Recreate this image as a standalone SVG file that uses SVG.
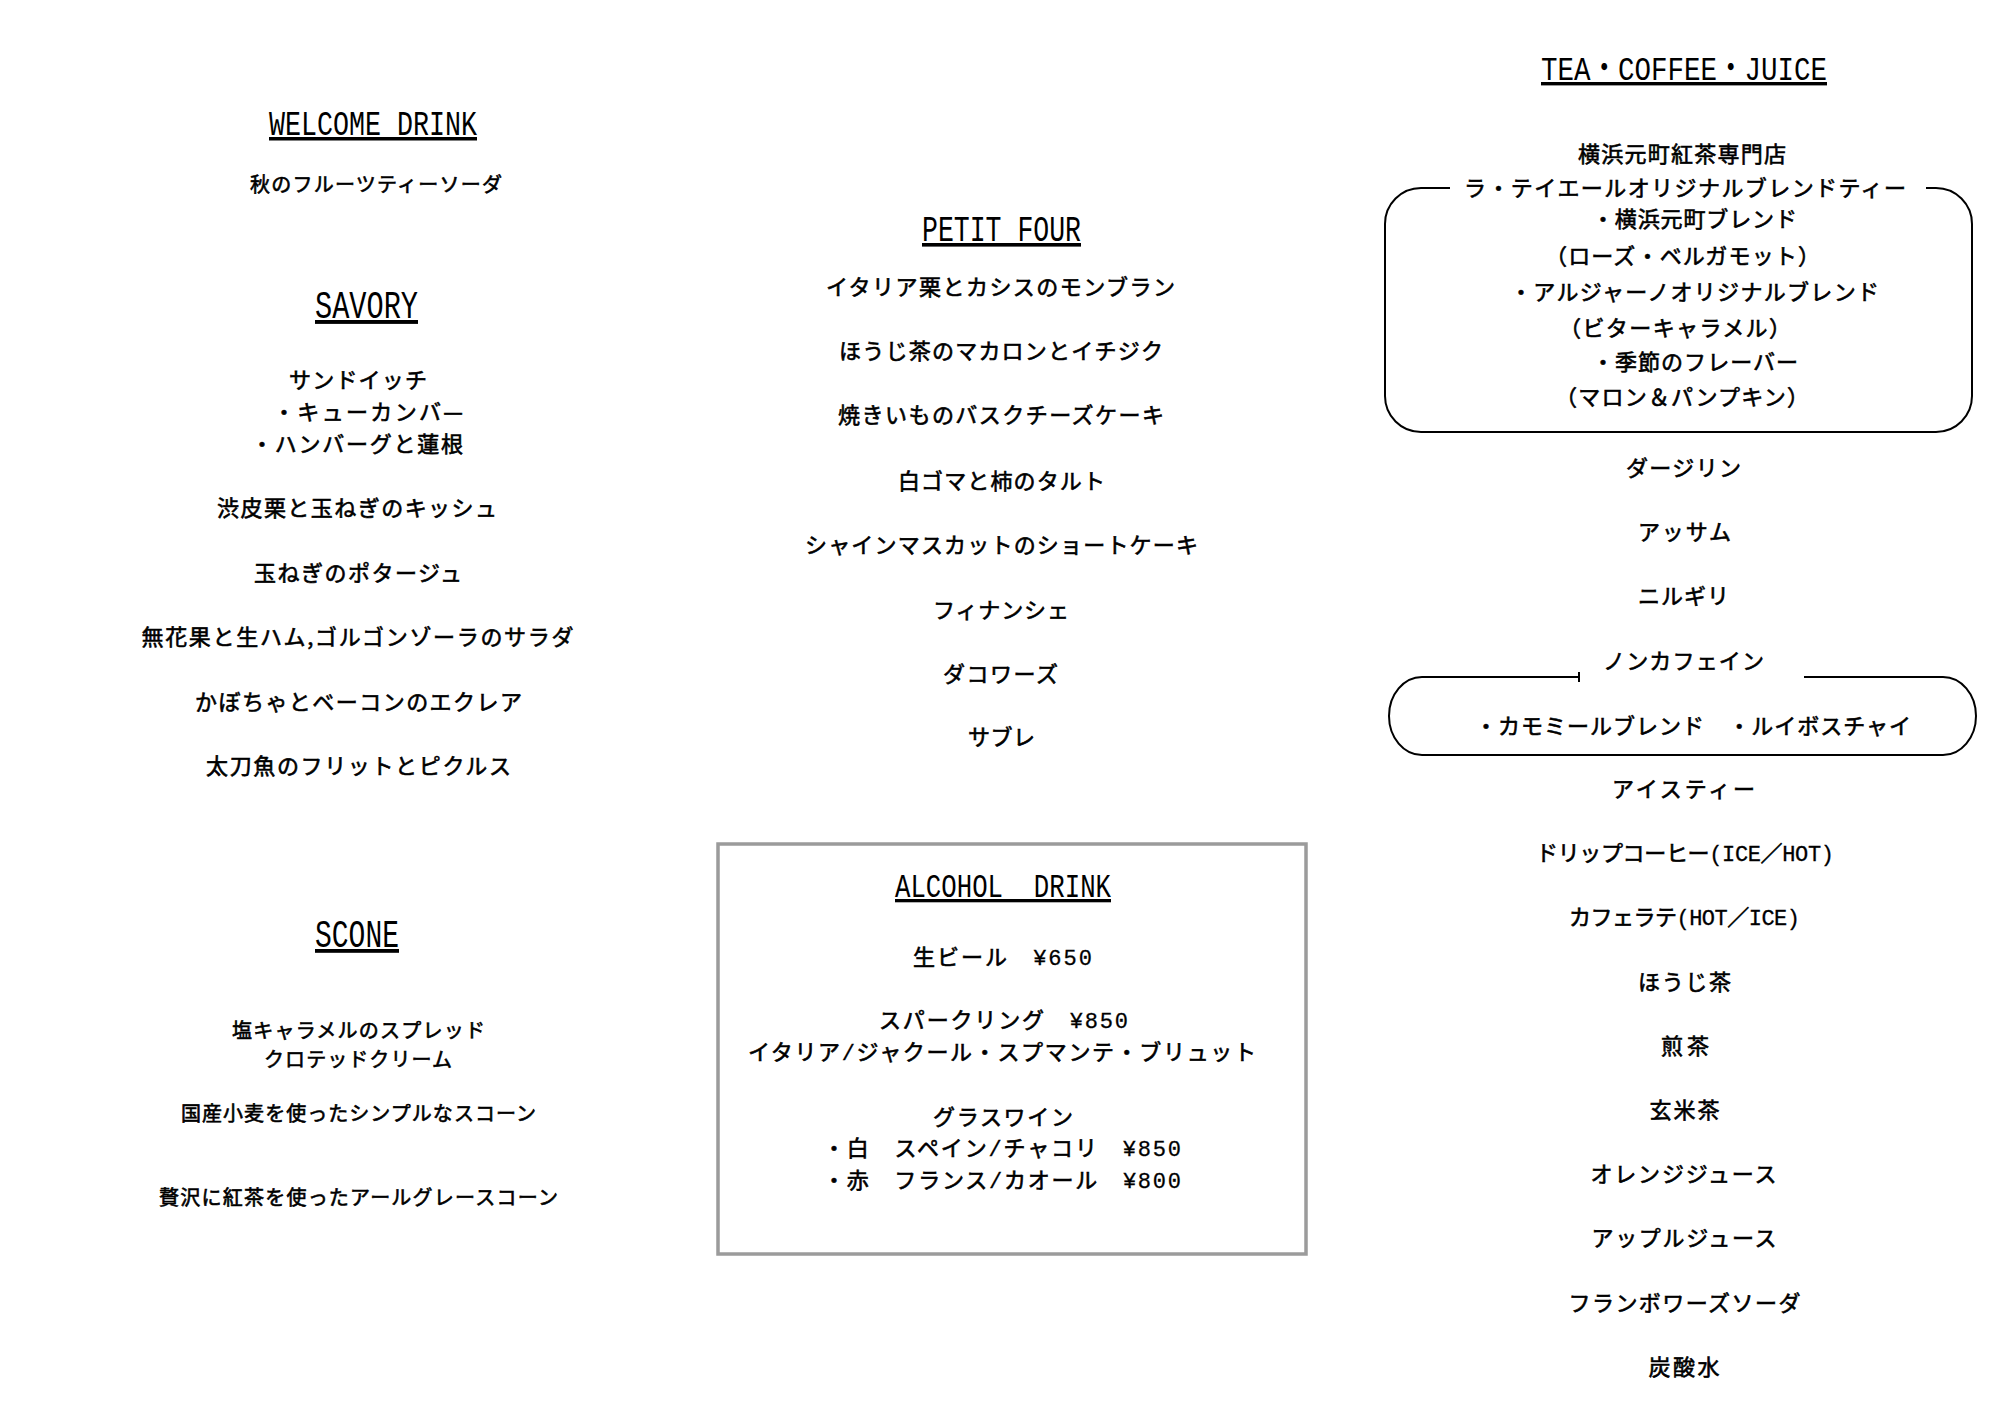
<svg xmlns="http://www.w3.org/2000/svg" width="2000" height="1414" viewBox="0 0 2000 1414">
<style>
.h{font-family:"Liberation Mono","Noto Sans CJK JP",monospace;fill:#000;text-anchor:middle;text-decoration:underline;}
.t{font-family:"Noto Sans CJK JP","Noto Sans CJK SC",sans-serif;font-size:22px;fill:#000;stroke:#000;stroke-width:0.6px;text-anchor:middle;}
.s{font-size:20px;}
.m{font-family:"Liberation Mono",monospace;stroke-width:0.3px;}
.box{fill:none;stroke:#000;stroke-width:2;}
.abox{fill:none;stroke:#9b9b9b;stroke-width:3.5;}
</style>
<rect width="2000" height="1414" fill="#fff"/>

<g id="welcome-drink">
<text class="h" x="373" y="135" font-size="35" textLength="208" lengthAdjust="spacingAndGlyphs">WELCOME DRINK</text>
<text class="t s" x="376" y="191.5" textLength="252">秋のフルーツティーソーダ</text>
</g>

<g id="savory">
<text class="h" x="366.5" y="318" font-size="39" textLength="103" lengthAdjust="spacingAndGlyphs">SAVORY</text>
<text class="t" x="358" y="388" textLength="138">サンドイッチ</text>
<text class="t" x="368" y="420" textLength="190">・キューカンバ—</text>
<text class="t" x="357" y="452" textLength="212">・ハンバーグと蓮根</text>
<text class="t" x="357" y="516" textLength="280">渋皮栗と玉ねぎのキッシュ</text>
<text class="t" x="358" y="581" textLength="208">玉ねぎのポタージュ</text>
<text class="t" x="357.5" y="645" textLength="432">無花果と生ハム,ゴルゴンゾーラのサラダ</text>
<text class="t" x="358.5" y="710" textLength="327">かぼちゃとベーコンのエクレア</text>
<text class="t" x="358.5" y="774" textLength="305">太刀魚のフリットとピクルス</text>
</g>

<g id="scone">
<text class="h" x="357" y="947" font-size="38" textLength="84" lengthAdjust="spacingAndGlyphs">SCONE</text>
<text class="t s" x="358.5" y="1037.5" textLength="253">塩キャラメルのスプレッド</text>
<text class="t s" x="358" y="1066.5" textLength="188">クロテッドクリーム</text>
<text class="t s" x="358.5" y="1121" textLength="355">国産小麦を使ったシンプルなスコーン</text>
<text class="t s" x="358.5" y="1205" textLength="399">贅沢に紅茶を使ったアールグレースコーン</text>
</g>

<g id="petit-four">
<text class="h" x="1001.5" y="241" font-size="36" textLength="159" lengthAdjust="spacingAndGlyphs">PETIT FOUR</text>
<text class="t" x="1000.5" y="295" textLength="349">イタリア栗とカシスのモンブラン</text>
<text class="t" x="1001" y="358.5" textLength="324">ほうじ茶のマカロンとイチジク</text>
<text class="t" x="1001" y="423" textLength="326">焼きいものバスクチーズケーキ</text>
<text class="t" x="1001.5" y="488.5" textLength="207">白ゴマと柿のタルト</text>
<text class="t" x="1001.5" y="552.5" textLength="393">シャインマスカットのショートケーキ</text>
<text class="t" x="1001" y="617.5" textLength="136">フィナンシェ</text>
<text class="t" x="1000.5" y="681.5" textLength="115">ダコワーズ</text>
<text class="t" x="1001.5" y="744.5" textLength="67">サブレ</text>
</g>

<g id="alcohol-drink">
<rect class="abox" x="718" y="844" width="588" height="410"/>
<text class="h" x="1003" y="897" font-size="33" textLength="216" lengthAdjust="spacingAndGlyphs" xml:space="preserve">ALCOHOL  DRINK</text>
<text class="t" x="1002.5" y="964.5" textLength="179">生ビール　<tspan class="m">¥650</tspan></text>
<text class="t" x="1003.5" y="1028" textLength="249">スパークリング　<tspan class="m">¥850</tspan></text>
<text class="t" x="1002" y="1060" textLength="508">イタリア<tspan class="m">/</tspan>ジャクール・スプマンテ・ブリュット</text>
<text class="t" x="1003" y="1124.5" textLength="140">グラスワイン</text>
<text class="t" x="1002" y="1156" textLength="358">・白　スペイン<tspan class="m">/</tspan>チャコリ　<tspan class="m">¥850</tspan></text>
<text class="t" x="1002" y="1188" textLength="358">・赤　フランス<tspan class="m">/</tspan>カオール　<tspan class="m">¥800</tspan></text>
</g>

<g id="tea-coffee-juice">
<text class="h" x="1684" y="80" font-size="34" textLength="286" lengthAdjust="spacingAndGlyphs">TEA・COFFEE・JUICE</text>
<text class="t" x="1682" y="161.5" textLength="208">横浜元町紅茶専門店</text>
<text class="t" x="1685" y="195.5" textLength="442">ラ・テイエールオリジナルブレンドティー</text>
<path class="box" d="M1450,188 H1421 A36,36 0 0 0 1385,224 V396 A36,36 0 0 0 1421,432 H1936 A36,36 0 0 0 1972,396 V224 A36,36 0 0 0 1936,188 H1926"/>
<text class="t" x="1694.5" y="226.5" textLength="205">・横浜元町ブレンド</text>
<text class="t" x="1682.5" y="263.5" textLength="275">（ローズ・ベルガモット）</text>
<text class="t" x="1694.5" y="299.5" textLength="369">・アルジャーノオリジナルブレンド</text>
<text class="t" x="1675" y="335.5" textLength="232">（ビターキャラメル）</text>
<text class="t" x="1695" y="369.5" textLength="206">・季節のフレーバー</text>
<text class="t" x="1682" y="404.5" textLength="254">（マロン＆パンプキン）</text>
<text class="t" x="1683.5" y="475.5" textLength="115">ダージリン</text>
<text class="t" x="1684.5" y="540" textLength="93">アッサム</text>
<text class="t" x="1683.5" y="603.5" textLength="91">ニルギリ</text>
<text class="t" x="1683.5" y="668.5" textLength="161">ノンカフェイン</text>
<path class="box" d="M1579,677 H1422 A33,39 0 0 0 1389,716 A33,39 0 0 0 1422,755 H1943 A33,39 0 0 0 1976,716 A33,39 0 0 0 1943,677 H1804 M1579,672 V682"/>
<text class="t" x="1693" y="733.5" textLength="436">・カモミールブレンド　・ルイボスチャイ</text>
<text class="t" x="1683.5" y="796.5" textLength="143">アイスティー</text>
<text class="t" x="1685" y="861" textLength="298">ドリップコーヒー<tspan class="m">(ICE</tspan>／<tspan class="m">HOT)</tspan></text>
<text class="t" x="1684.5" y="925" textLength="231">カフェラテ<tspan class="m">(HOT</tspan>／<tspan class="m">ICE)</tspan></text>
<text class="t" x="1684.5" y="989.5" textLength="93">ほうじ茶</text>
<text class="t" x="1685" y="1053.5" textLength="48">煎茶</text>
<text class="t" x="1684.5" y="1117.5" textLength="70">玄米茶</text>
<text class="t" x="1683.5" y="1182" textLength="186">オレンジジュース</text>
<text class="t" x="1684" y="1246" textLength="185">アップルジュース</text>
<text class="t" x="1684.5" y="1310.5" textLength="232">フランボワーズソーダ</text>
<text class="t" x="1684" y="1374.5" textLength="71">炭酸水</text>
</g>

<g id="connectors"></g>
</svg>
